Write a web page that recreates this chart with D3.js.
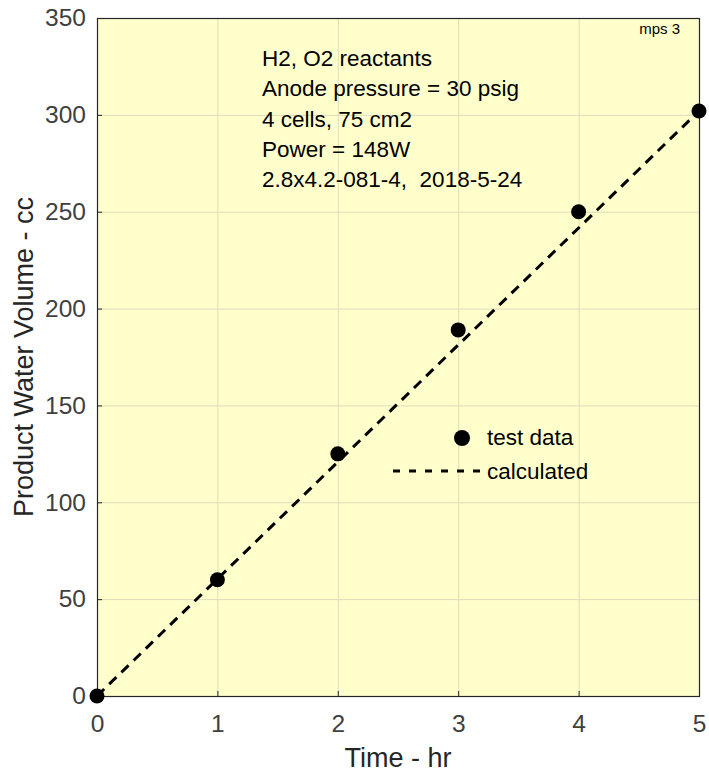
<!DOCTYPE html>
<html lang="en">
<head>
<meta charset="UTF-8">
<title>Product water volume</title>
<script src="https://d3js.org/d3.v7.min.js"></script>
<style>
  body { margin: 0; background: #fff; }
  svg { display: block; font-family: "Liberation Sans", Arial, sans-serif; }
  .note { white-space: pre; }
</style>
</head>
<body>
<div id="chart"></div>
<script>
// test data
const hours = [0, 1, 2, 3, 4, 5];
const volume = [0, 60, 125, 189, 250, 302];
// calculated line
const calcHours = [0, 5];
const calcVolume = [0, 302];

const xTicks = [0, 1, 2, 3, 4, 5];
const yTicks = [0, 50, 100, 150, 200, 250, 300, 350];

const notes = [
  "H2, O2 reactants",
  "Anode pressure = 30 psig",
  "4 cells, 75 cm2",
  "Power = 148W",
  "2.8x4.2-081-4,  2018-5-24"
];

const width = 709, height = 774;
const margin = { top: 18, right: 10, bottom: 78, left: 97 };

const svg = d3.select("#chart").append("svg")
  .attr("width", width)
  .attr("height", height);

const x = d3.scaleLinear().domain([0, 5]).range([margin.left, width - margin.right]);
const y = d3.scaleLinear().domain([0, 350]).range([height - margin.bottom, margin.top]);

// plot background
svg.append("rect")
  .attr("x", x(0)).attr("y", y(350))
  .attr("width", x(5) - x(0)).attr("height", y(0) - y(350))
  .attr("fill", "#ffffcc");

// grid
svg.append("g")
  .attr("stroke", "#dcdcbc")
  .attr("stroke-width", 1)
  .call(g => g.selectAll(".gx").data(xTicks.slice(1, -1)).join("line")
    .attr("x1", d => x(d) + 0.5).attr("x2", d => x(d) + 0.5)
    .attr("y1", y(350)).attr("y2", y(0)))
  .call(g => g.selectAll(".gy").data(yTicks.slice(1, -1)).join("line")
    .attr("y1", d => y(d) + 0.5).attr("y2", d => y(d) + 0.5)
    .attr("x1", x(0)).attr("x2", x(5)));

// axes (ticks inside)
const xAxis = svg.append("g")
  .attr("transform", `translate(0,${y(0)})`)
  .call(d3.axisBottom(x).tickValues(xTicks).tickFormat(d3.format("d"))
    .tickSize(-5).tickPadding(14).tickSizeOuter(0));
const yAxis = svg.append("g")
  .attr("transform", `translate(${x(0)},0)`)
  .call(d3.axisLeft(y).tickValues(yTicks).tickFormat(d3.format("d"))
    .tickSize(-5).tickPadding(11).tickSizeOuter(0));

[xAxis, yAxis].forEach(a => {
  a.select(".domain").remove();
  a.selectAll("line").attr("stroke", "#262626");
  a.selectAll("text")
    .attr("fill", "#404040")
    .style("font-size", "24.5px")
    .style("font-family", "\"Liberation Sans\", Arial, sans-serif");
});
xAxis.selectAll("text").attr("dy", "0.9em");

// box
svg.append("rect")
  .attr("x", x(0) + 0.5).attr("y", y(350) + 0.5)
  .attr("width", x(5) - x(0)).attr("height", y(0) - y(350))
  .attr("fill", "none")
  .attr("stroke", "#262626")
  .attr("stroke-width", 1.2);

// calculated line
const line = d3.line().x(d => x(d[0])).y(d => y(d[1]));
svg.append("path")
  .datum(d3.zip(calcHours, calcVolume))
  .attr("d", line)
  .attr("fill", "none")
  .attr("stroke", "#000")
  .attr("stroke-width", 3)
  .attr("stroke-dasharray", "10,7");

// test data markers
svg.append("g")
  .selectAll("circle")
  .data(d3.zip(hours, volume))
  .join("circle")
  .attr("cx", d => x(d[0]))
  .attr("cy", d => y(d[1]))
  .attr("r", 7.5)
  .attr("fill", "#000");

// annotation text
svg.append("g")
  .selectAll("text")
  .data(notes)
  .join("text")
  .attr("class", "note")
  .attr("x", 262)
  .attr("y", (d, i) => 66 + i * 30.3)
  .attr("fill", "#000")
  .style("font-size", "22.5px")
  .text(d => d);

svg.append("text")
  .attr("x", 680).attr("y", 34)
  .attr("text-anchor", "end")
  .attr("fill", "#000")
  .style("font-size", "15px")
  .text("mps 3");

// legend
const legend = svg.append("g");
legend.append("circle")
  .attr("cx", 462).attr("cy", 438).attr("r", 8).attr("fill", "#000");
legend.append("text")
  .attr("x", 487).attr("y", 445)
  .style("font-size", "22.5px")
  .text("test data");
legend.append("line")
  .attr("x1", 393).attr("x2", 481)
  .attr("y1", 471).attr("y2", 471)
  .attr("stroke", "#000")
  .attr("stroke-width", 3)
  .attr("stroke-dasharray", "7,9");
legend.append("text")
  .attr("x", 487).attr("y", 479)
  .style("font-size", "22.5px")
  .text("calculated");

// axis labels
svg.append("text")
  .attr("x", (x(0) + x(5)) / 2)
  .attr("y", 767)
  .attr("text-anchor", "middle")
  .attr("fill", "#262626")
  .style("font-size", "27px")
  .text("Time - hr");

svg.append("text")
  .attr("transform", `translate(33,${(y(0) + y(350)) / 2}) rotate(-90)`)
  .attr("text-anchor", "middle")
  .attr("fill", "#262626")
  .style("font-size", "27px")
  .text("Product Water Volume - cc");
</script>
</body>
</html>
